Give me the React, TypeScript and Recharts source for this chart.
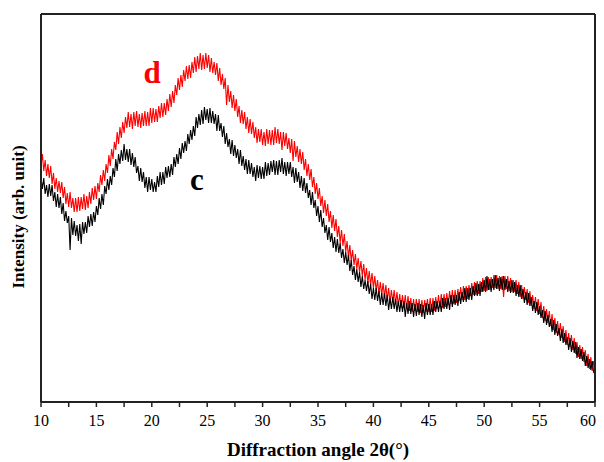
import { LineChart, Line, XAxis, YAxis } from "recharts";

// x grid: 10° .. 60° in 0.125° steps
const angles = Array.from({ length: 401 }, (_, i) => 10 + i * 0.125);

// sample c (black), one row per degree (8 readings)
const sampleC = [
  225, 213, 224, 208, 217, 205, 218, 206,
  217, 201, 210, 195, 208, 194, 205, 188,
  199, 181, 191, 179, 186, 152, 184, 167,
  181, 166, 177, 161, 178, 158, 180, 168,
  180, 169, 186, 175, 188, 176, 190, 180,
  196, 187, 204, 193, 208, 197, 216, 208,
  223, 212, 226, 217, 234, 225, 243, 231,
  248, 238, 252, 241, 258, 242, 253, 240,
  253, 237, 249, 235, 245, 229, 236, 221,
  234, 220, 230, 214, 225, 210, 225, 212,
  223, 210, 220, 210, 226, 215, 230, 217,
  230, 218, 235, 224, 236, 225, 238, 227,
  245, 235, 248, 238, 254, 243, 259, 249,
  261, 251, 268, 258, 272, 262, 276, 266,
  285, 274, 288, 277, 292, 278, 295, 282,
  293, 279, 294, 279, 291, 278, 288, 271,
  287, 271, 279, 265, 276, 258, 269, 255,
  263, 248, 262, 246, 257, 244, 253, 238,
  252, 236, 246, 232, 243, 228, 242, 228,
  239, 225, 235, 221, 237, 224, 236, 223,
  235, 223, 240, 226, 239, 227, 241, 230,
  242, 227, 241, 227, 242, 230, 244, 228,
  240, 226, 240, 228, 240, 225, 235, 219,
  234, 220, 230, 214, 226, 211, 224, 209,
  219, 204, 212, 197, 210, 194, 202, 186,
  196, 180, 192, 175, 184, 169, 177, 162,
  175, 160, 169, 154, 165, 150, 163, 149,
  159, 144, 153, 139, 150, 137, 147, 131,
  142, 127, 136, 122, 133, 120, 130, 115,
  126, 113, 122, 111, 121, 108, 118, 103,
  114, 102, 114, 101, 111, 97, 109, 97,
  109, 96, 107, 92, 104, 93, 105, 93,
  103, 90, 101, 90, 102, 90, 101, 85,
  99, 88, 101, 88, 99, 85, 98, 86,
  99, 87, 98, 85, 97, 83, 99, 87,
  98, 87, 98, 87, 101, 90, 101, 90,
  101, 90, 104, 93, 104, 93, 104, 92,
  107, 95, 107, 97, 107, 96, 110, 98,
  110, 100, 114, 100, 114, 102, 114, 102,
  116, 106, 119, 106, 118, 106, 120, 110,
  122, 110, 126, 112, 123, 110, 123, 112,
  127, 113, 124, 111, 125, 112, 126, 112,
  123, 110, 121, 109, 122, 109, 120, 106,
  117, 105, 117, 103, 113, 99, 110, 97,
  109, 96, 105, 91, 101, 89, 100, 87,
  96, 84, 92, 79, 91, 77, 87, 75,
  83, 70, 82, 67, 78, 66, 74, 61,
  73, 59, 69, 57, 65, 52, 64, 50,
  61, 49, 60, 44, 55, 43, 53, 41,
  50, 36, 46, 34, 43, 32, 41, 30,
  32,
];

// sample d (red)
const sampleD = [
  237, 248, 231, 242, 226, 238, 224, 236,
  218, 229, 213, 224, 210, 221, 209, 220,
  204, 215, 198, 209, 195, 210, 194, 204,
  190, 204, 190, 205, 191, 205, 193, 208,
  192, 206, 194, 210, 198, 214, 202, 216,
  203, 219, 210, 227, 217, 232, 221, 238,
  229, 247, 236, 253, 243, 260, 252, 270,
  258, 275, 264, 280, 269, 285, 274, 290,
  275, 288, 273, 290, 276, 291, 275, 288,
  274, 289, 276, 291, 276, 290, 276, 294,
  279, 294, 280, 293, 280, 296, 284, 299,
  285, 299, 287, 303, 291, 308, 295, 311,
  299, 317, 307, 324, 312, 327, 315, 332,
  321, 336, 323, 337, 324, 340, 329, 345,
  330, 346, 333, 349, 332, 347, 333, 349,
  334, 347, 330, 344, 329, 340, 327, 339,
  321, 334, 317, 328, 313, 324, 297, 317,
  300, 311, 294, 307, 291, 303, 285, 296,
  279, 292, 278, 290, 273, 285, 269, 283,
  268, 280, 264, 275, 259, 273, 260, 273,
  257, 270, 256, 273, 258, 272, 257, 272,
  257, 275, 259, 273, 258, 270, 252, 270,
  256, 269, 253, 264, 249, 263, 241, 261,
  245, 256, 240, 253, 238, 250, 232, 243,
  226, 238, 222, 233, 215, 225, 208, 219,
  203, 214, 196, 206, 189, 202, 186, 198,
  180, 191, 174, 187, 171, 183, 165, 176,
  159, 172, 156, 168, 150, 161, 144, 157,
  141, 152, 137, 148, 133, 144, 130, 141,
  126, 138, 122, 134, 119, 131, 117, 129,
  114, 126, 111, 122, 108, 120, 107, 119,
  105, 117, 102, 114, 100, 112, 100, 112,
  98, 110, 96, 108, 94, 107, 94, 107,
  93, 106, 91, 104, 90, 103, 91, 103,
  90, 103, 89, 102, 89, 102, 90, 103,
  90, 104, 90, 104, 91, 105, 93, 107,
  94, 108, 94, 108, 95, 109, 97, 111,
  98, 112, 98, 112, 99, 113, 101, 115,
  102, 116, 102, 116, 103, 117, 106, 119,
  107, 120, 107, 121, 108, 121, 110, 124,
  111, 125, 111, 125, 112, 125, 114, 127,
  114, 127, 113, 126, 113, 126, 105, 126,
  113, 126, 111, 124, 110, 122, 110, 122,
  108, 120, 105, 117, 103, 115, 102, 113,
  99, 111, 96, 107, 93, 105, 91, 103,
  88, 100, 84, 96, 81, 93, 79, 91,
  76, 88, 72, 84, 69, 81, 67, 79,
  64, 76, 60, 72, 57, 69, 55, 67,
  52, 64, 48, 60, 45, 57, 43, 55,
  40, 52, 36, 48, 33, 45, 31, 41,
  34,
];

const xTicks = [10, 12.5, 15, 17.5, 20, 22.5, 25, 27.5, 30, 32.5, 35, 37.5, 40, 42.5, 45, 47.5, 50, 52.5, 55, 57.5, 60];
const yTicks = [0, 35.3, 70.5, 105.8, 141.1, 176.4, 211.6, 246.9, 282.2, 317.5, 352.7, 388];

const rows = angles.map((angle, i) => ({ angle, c: sampleC[i], d: sampleD[i] }));

const serif = "'Liberation Serif', 'Times New Roman', serif";
const axisLine = { stroke: "#222", strokeWidth: 2 };
const tickLine = { stroke: "#222", strokeWidth: 1.5 };

// only every 5° gets a number; the last one is kept inside the frame
function AngleTick(props: any) {
  const { x, y, payload } = props;
  const v = payload.value;
  if (v % 5 !== 0) return null;
  const last = v === 60;
  return (
    <text
      x={last ? x + 1 : x}
      y={y}
      dy="0.71em"
      textAnchor={last ? "end" : "middle"}
      fill="#000"
      fontSize={16}
      fontFamily={serif}
    >
      {v}
    </text>
  );
}

export default function App() {
  return (
    <div style={{ position: "relative", width: 596, height: 454, fontFamily: serif }}>
      <LineChart
        width={596}
        height={454}
        data={rows}
        margin={{ top: 6, right: 9, bottom: 30, left: 33 }}
      >
        <XAxis
          xAxisId="b"
          dataKey="angle"
          type="number"
          domain={[10, 60]}
          ticks={xTicks}
          allowDataOverflow
          height={30}
          tickSize={5}
          tickMargin={8}
          axisLine={axisLine}
          tickLine={tickLine}
          tick={<AngleTick />}
        />
        <XAxis
          xAxisId="t"
          orientation="top"
          dataKey="angle"
          type="number"
          domain={[10, 60]}
          ticks={xTicks}
          allowDataOverflow
          mirror
          tickSize={4}
          tick={false}
          axisLine={axisLine}
          tickLine={tickLine}
        />
        <YAxis
          yAxisId="l"
          type="number"
          domain={[0, 388]}
          ticks={yTicks}
          allowDataOverflow
          mirror
          tickSize={4}
          tick={false}
          axisLine={axisLine}
          tickLine={tickLine}
        />
        <YAxis
          yAxisId="r"
          orientation="right"
          type="number"
          domain={[0, 388]}
          ticks={yTicks}
          allowDataOverflow
          mirror
          tickSize={4}
          tick={false}
          axisLine={axisLine}
          tickLine={tickLine}
        />
        <Line
          xAxisId="b"
          yAxisId="l"
          type="linear"
          dataKey="d"
          stroke="#ff0000"
          strokeWidth={1.1}
          dot={false}
          isAnimationActive={false}
        />
        <Line
          xAxisId="b"
          yAxisId="l"
          type="linear"
          dataKey="c"
          stroke="#000"
          strokeWidth={1.1}
          dot={false}
          isAnimationActive={false}
        />
      </LineChart>
      <svg
        width={596}
        height={454}
        style={{ position: "absolute", left: 0, top: 0, pointerEvents: "none" }}
        fontFamily={serif}
        fontWeight="bold"
      >
        <text x={144} y={75} fontSize={31} fill="#ff0000" textAnchor="middle">d</text>
        <text x={189} y={182} fontSize={31} fill="#000" textAnchor="middle">c</text>
        <text
          transform="translate(10, 209) rotate(-90)"
          fontSize={17}
          fill="#000"
          textAnchor="middle"
          dy="0.35em"
        >
          Intensity (arb. unit)
        </text>
        <text x={310} y={441} fontSize={19} fill="#000" textAnchor="middle" dy="0.35em">
          Diffraction angle 2θ(°)
        </text>
      </svg>
    </div>
  );
}
